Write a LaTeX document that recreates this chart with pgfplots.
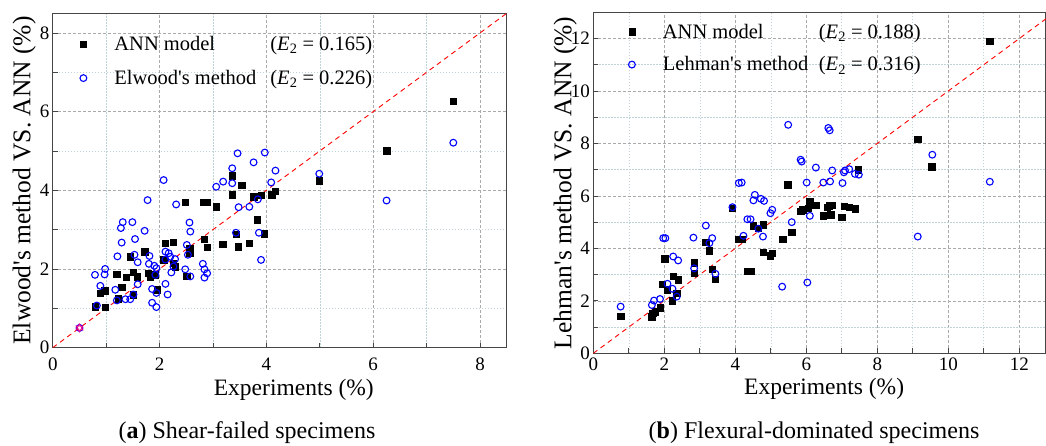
\documentclass[border=0pt]{standalone}
\usepackage{fontspec}
\setmainfont{Liberation Serif}
\usepackage{pgfplots}
\pgfplotsset{compat=1.18}
\usepackage{pgfplotstable}

\pgfplotstableread{
x y
0.79 1.04
0.98 1.03
0.89 1.38
0.97 1.45
1.20 1.87
1.375 1.79
1.29 1.53
1.23 1.24
1.51 1.34
1.45 2.31
1.51 1.92
1.575 1.80
1.72 2.44
1.79 1.89
1.825 1.80
1.92 1.85
1.95 1.47
2.10 2.65
2.26 2.68
2.08 2.23
2.26 2.14
2.29 2.06
2.48 3.69
2.82 3.69
2.88 3.69
3.06 3.58
2.84 2.76
2.89 2.55
2.56 2.51
2.56 2.40
2.51 1.82
3.18 2.63
3.475 2.57
3.675 2.66
3.36 4.37
3.36 3.89
3.54 4.13
3.76 3.84
3.90 3.88
3.83 3.25
3.96 2.90
4.10 3.89
4.17 3.98
3.43 2.89
7.50 6.27
6.25 5.01
4.99 4.24
}\annA

\pgfplotstableread{
x y
0.50 0.50
2.075 4.26
1.775 3.75
2.31 3.64
1.31 3.19
1.49 3.19
1.275 3.04
1.72 2.97
1.54 2.76
1.29 2.67
1.21 2.32
1.53 2.36
1.59 2.17
1.81 2.33
1.80 2.13
1.90 2.08
1.94 2.02
1.92 1.85
2.11 2.44
2.11 2.24
2.17 2.40
2.20 2.31
2.29 2.25
2.26 2.06
2.22 1.91
2.11 1.62
2.15 1.35
1.86 1.49
1.94 1.39
1.86 1.14
1.94 1.03
1.59 1.61
1.51 1.35
1.45 1.23
1.36 1.23
1.20 1.20
1.17 1.47
0.89 1.57
0.98 2.00
0.97 1.86
0.79 1.85
0.825 1.07
2.56 3.18
2.575 2.95
2.51 2.61
2.53 2.36
2.48 1.99
2.575 1.81
2.81 2.13
2.84 1.99
2.89 1.89
2.84 1.78
3.06 4.09
3.19 4.22
3.36 4.18
3.36 4.56
3.76 4.71
3.48 3.57
3.68 3.58
3.84 3.77
3.86 2.92
3.90 2.23
3.43 2.92
4.09 4.20
4.17 4.50
3.46 4.94
3.97 4.96
7.50 5.21
6.25 3.74
4.99 4.42
}\elwood

\pgfplotstableread{
x y
0.77 1.42
1.64 1.40
1.67 1.53
1.74 1.59
1.88 1.74
1.94 2.63
2.08 2.42
2.22 2.01
2.35 2.29
2.25 2.95
2.39 2.80
2.01 3.60
2.84 3.46
2.84 3.05
3.17 4.24
3.27 3.91
3.35 3.21
3.44 2.82
3.92 5.53
4.10 4.35
4.20 4.35
4.35 3.12
4.43 3.12
4.51 4.87
4.65 4.77
4.79 4.90
4.78 3.85
4.99 3.72
5.04 3.82
5.33 4.35
5.59 4.61
5.48 6.42
5.84 5.41
5.90 5.47
6.06 5.53
6.10 5.79
6.27 5.64
6.48 5.25
6.65 5.62
6.71 5.64
6.69 5.28
6.59 5.57
7.00 5.19
7.06 5.60
7.21 5.58
7.37 5.52
7.47 7.00
9.14 8.17
9.53 7.12
11.17 11.89
}\annB

\pgfplotstableread{
x y
0.77 1.78
1.65 1.84
1.71 2.01
1.88 2.07
2.09 2.65
2.23 2.46
2.35 2.16
2.25 3.69
2.39 3.54
1.97 4.39
2.03 4.39
2.82 4.41
2.84 3.24
3.17 4.87
3.27 4.20
3.35 4.39
3.44 3.03
3.92 5.57
4.10 6.49
4.18 6.51
4.23 4.48
4.34 5.11
4.43 5.11
4.51 5.83
4.55 6.04
4.72 5.89
4.81 5.81
4.65 4.75
4.78 4.45
4.99 5.34
5.04 5.47
5.32 2.54
5.59 5.00
6.03 2.70
6.01 6.51
6.10 5.24
6.48 6.51
6.67 6.55
5.49 8.71
6.62 8.59
6.66 8.50
5.84 7.38
5.87 7.31
6.27 7.08
6.73 6.97
7.02 6.49
7.06 6.90
7.09 6.97
7.21 7.02
7.37 6.84
7.48 6.81
9.55 7.57
9.14 4.45
11.17 6.54
}\lehman

\definecolor{axgray}{RGB}{70,70,70}
\definecolor{majgrid}{RGB}{170,170,170}
\definecolor{mingrid}{RGB}{190,210,215}

\pgfplotsset{
  myaxis/.style={
    scale only axis,
    axis line style={draw=axgray, line width=1pt},
    tick align=inside,
    xtick pos=left, ytick pos=left,
    major tick length=5pt, minor tick length=5pt,
    every tick/.style={axgray, line width=0.8pt},
    grid=both,
    major grid style={dash pattern=on 3pt off 2pt, majgrid, line width=0.6pt},
    minor grid style={dash pattern=on 1.5pt off 1.5pt, mingrid, line width=0.6pt},
    tick label style={font=\fontsize{19}{22}\selectfont},
    /pgf/number format/assume math mode=true,
    xlabel style={font=\fontsize{23.5}{27}\selectfont, anchor=base},
    ylabel style={font=\fontsize{25.5}{29}\selectfont, anchor=base, at={(axis description cs:0,0.5)}},
    legend style={draw=none, fill=none, at={(axis description cs:0,1)}, anchor=north west,
      font=\fontsize{20.5}{24}\selectfont, inner xsep=0pt, inner ysep=0pt},
    legend cell align=left,
    legend image code/.code={\draw[##1] plot coordinates {(0pt,0pt)}; \path[draw=none,fill=none] (0pt,0pt) -- (29pt,0pt);},
    clip=true,
  },
  annstyle/.style={only marks, mark=square*, mark size=3.2pt, mark options={fill=black, draw=black}},
  methstyle/.style={only marks, mark=o, mark size=3.4pt, mark options={draw=blue, line width=1.1pt}},
  diag/.style={red, dash pattern=on 5pt off 4pt, line width=0.9pt, forget plot},
}

\begin{document}
\begin{tikzpicture}
\path[use as bounding box] (0pt,0pt) rectangle (1046pt,446pt);

\begin{axis}[myaxis,
  at={(52.8pt,98.4pt)}, anchor=south west,
  width=453.9pt, height=334.3pt,
  xmin=0, xmax=8.5, ymin=0, ymax=8.5,
  xtick={0,2,4,6,8}, minor xtick={1,3,5,7},
  ytick={0,2,4,6,8}, minor ytick={1,3,5,7},
  xticklabel style={yshift=-6.8pt},
  xlabel={Experiments (\%)},
  xlabel style={at={(axis description cs:0.531,0)}, yshift=-47.5pt},
  ylabel={Elwood\textquotesingle s method VS. ANN (\%)},
  ylabel style={yshift=22.5pt},
  legend style={xshift=27pt, yshift=-21pt, row sep=14pt},
]
\addplot[diag] coordinates {(0,0) (8.5,8.5)};
\addplot[annstyle] table {\annA};
\addlegendentry{\makebox[156pt][l]{ANN model}(\textit{E}\textsubscript{2} = 0.165)}
\addplot[methstyle] table {\elwood};
\addlegendentry{\makebox[156pt][l]{Elwood\textquotesingle s method}(\textit{E}\textsubscript{2} = 0.226)}
\addplot[only marks, mark=triangle, mark size=4pt, mark options={draw=magenta, line width=0.8pt}, forget plot] coordinates {(0.5,0.5)};
\addplot[only marks, mark=triangle, mark size=4pt, mark options={draw=magenta, line width=0.8pt, rotate=180}, forget plot] coordinates {(0.5,0.5)};
\end{axis}

\begin{axis}[myaxis,
  at={(593.3pt,92.7pt)}, anchor=south west,
  width=452.6pt, height=341pt,
  xmin=0, xmax=12.75, ymin=0, ymax=13,
  xtick={0,2,4,6,8,10,12}, minor xtick={1,3,5,7,9,11},
  ytick={0,2,4,6,8,10,12}, minor ytick={1,3,5,7,9,11},
  xticklabel style={yshift=-1.1pt},
  xlabel={Experiments (\%)},
  xlabel style={at={(axis description cs:0.51,0)}, yshift=-41.7pt},
  ylabel={Lehman\textquotesingle s method VS. ANN (\%)},
  ylabel style={yshift=22pt},
  legend style={xshift=35pt, yshift=-9.5pt, row sep=13pt},
]
\addplot[diag] coordinates {(0,0) (13,13)};
\addplot[annstyle] table {\annB};
\addlegendentry{\makebox[156pt][l]{ANN model}(\textit{E}\textsubscript{2} = 0.188)}
\addplot[methstyle] table {\lehman};
\addlegendentry{\makebox[156pt][l]{Lehman\textquotesingle s method}(\textit{E}\textsubscript{2} = 0.316)}
\end{axis}

\node[anchor=base, font=\fontsize{24}{28}\selectfont] at (247pt,7pt) {(\textbf{a}) Shear-failed specimens};
\node[anchor=base, font=\fontsize{24}{28}\selectfont] at (814pt,7pt) {(\textbf{b}) Flexural-dominated specimens};
\end{tikzpicture}
\end{document}
